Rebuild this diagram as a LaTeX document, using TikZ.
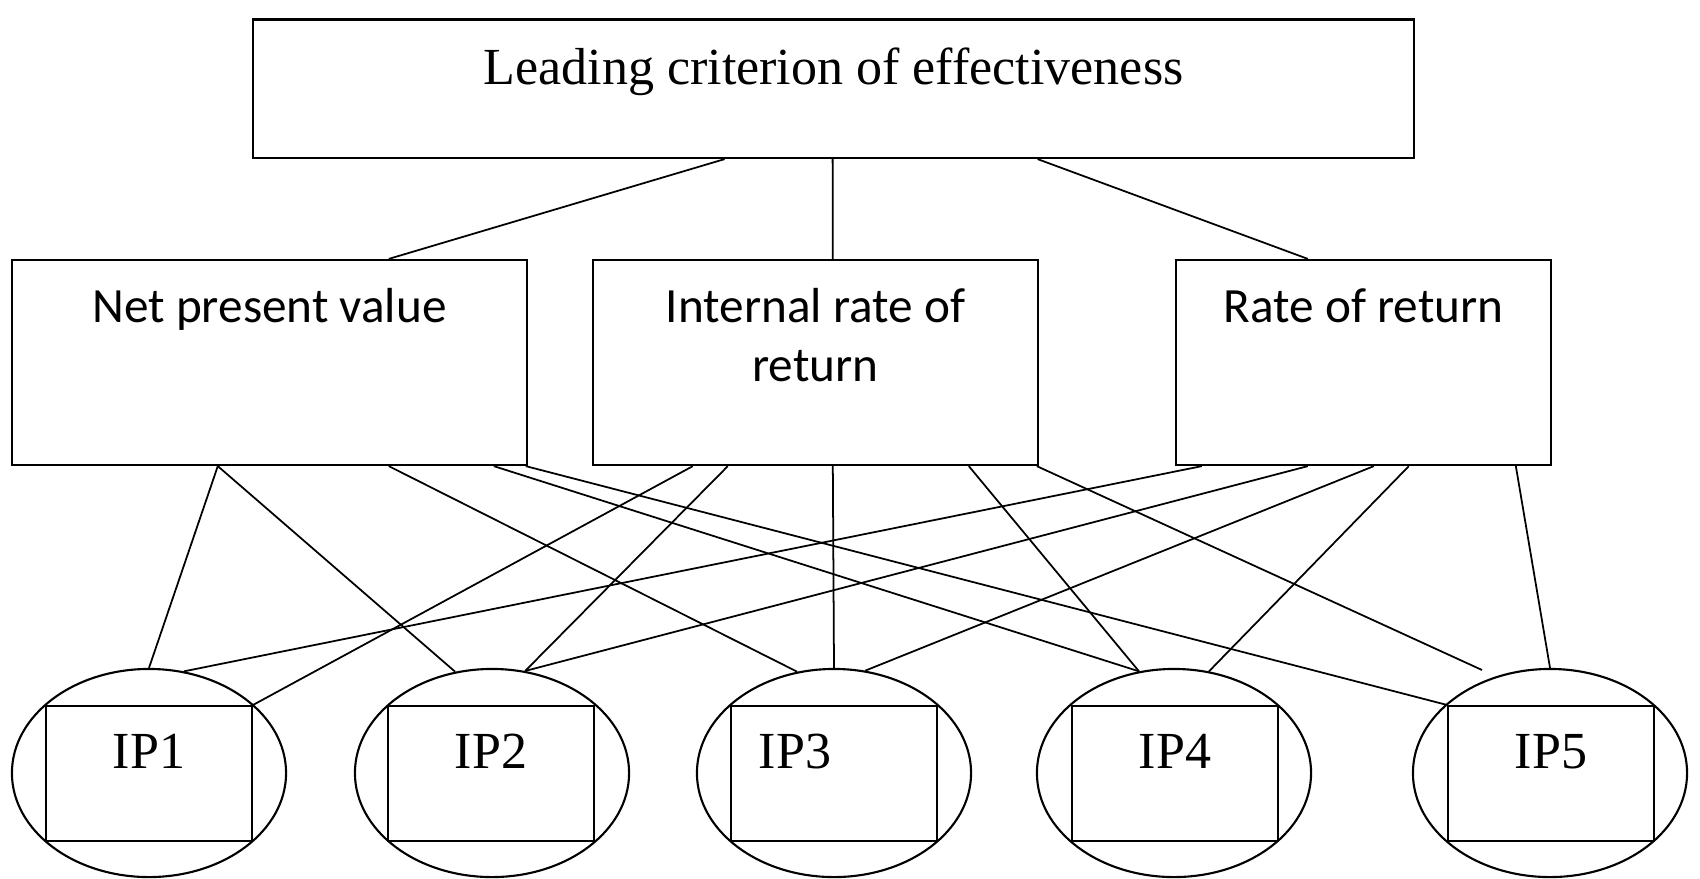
\documentclass[tikz,border=0pt]{standalone}
\usepackage{fontspec}
\setmainfont{Liberation Serif}
\newfontfamily\calibri{Carlito}
\usetikzlibrary{calc,shapes.geometric}
\tikzset{
  crLink/.style={line width=0.5pt,draw=black},
  crBox/.style={draw,line width=0.6pt,inner sep=0pt,
    font=\fontsize{14.8}{17}\selectfont},
  crMeasure/.style={crBox,font=\calibri\fontsize{14}{16.6}\selectfont,
    minimum height=2.05cm,text height=0.63cm,text depth=1.42cm},
  crOval/.style={draw,ellipse,line width=0.6pt,inner sep=0pt,
    minimum width=2.74cm,minimum height=2.08cm},
  crProject/.style={crBox,minimum width=2.06cm,minimum height=1.35cm,
    text height=0.62cm,text depth=0.73cm}
}

\begin{document}
\begin{tikzpicture}[x=0.01cm,y=-0.01cm]
\useasboundingbox (0,0) rectangle (1700,878);
\node[crBox,minimum width=11.61cm,text height=0.651cm,text depth=0.734cm]
  (lead) at (833.5,88.75) {Leading criterion of effectiveness};
\node[crMeasure,minimum width=5.15cm] (npv) at (269.5,362.5) {Net present value};
\node[crMeasure,text width=4.45cm,align=flush center] (irr) at (815.5,362.5)
  {Internal rate of\\return};
\node[crMeasure,minimum width=3.75cm] (ror) at (1363.5,362.5) {Rate of return};
% investment projects
\foreach \i/\x in {1/149,2/492,3/834,4/1174,5/1550}{
  \node[crOval] (ip\i) at (\x,773) {};
}
\foreach \i/\x in {1/149,2/491,4/1175,5/1551}{
  \node[crProject] (ipb\i) at (\x,773.5) {IP\i};
}
\node[crProject,text width=1.5cm,align=left,inner xsep=0.28cm]
  (ipb3) at (834,773.5) {IP3};
\coordinate (irrEnd) at (1482,670);
\draw[crLink] ($(lead.south west)+(473,0)$) -- ($(npv.north west)+(378,0)$);
\draw[crLink] ($(lead.south west)+(581,0)$) -- ($(irr.north west)+(241,0)$);
\draw[crLink] ($(lead.south west)+(786,0)$) -- ($(ror.north west)+(133,0)$);
\foreach \dx/\to in {207/ip1.north,207/ip2.110,378/ip3.110,483/ip4.109,515/ipb5.north west}
  \draw[crLink] ($(npv.south west)+(\dx,0)$) -- (\to);
\foreach \dx/\to in {101/ipb1.north east,136/ip2.72,241/ip3.north,377/ip4.109,445/irrEnd}
  \draw[crLink] ($(irr.south west)+(\dx,0)$) -- (\to);
\foreach \dx/\to in {27/ip1.71,133/ip2.72,199/ip3.73,234/ip4.71,341/ip5.north}
  \draw[crLink] ($(ror.south west)+(\dx,0)$) -- (\to);
\end{tikzpicture}
\end{document}
